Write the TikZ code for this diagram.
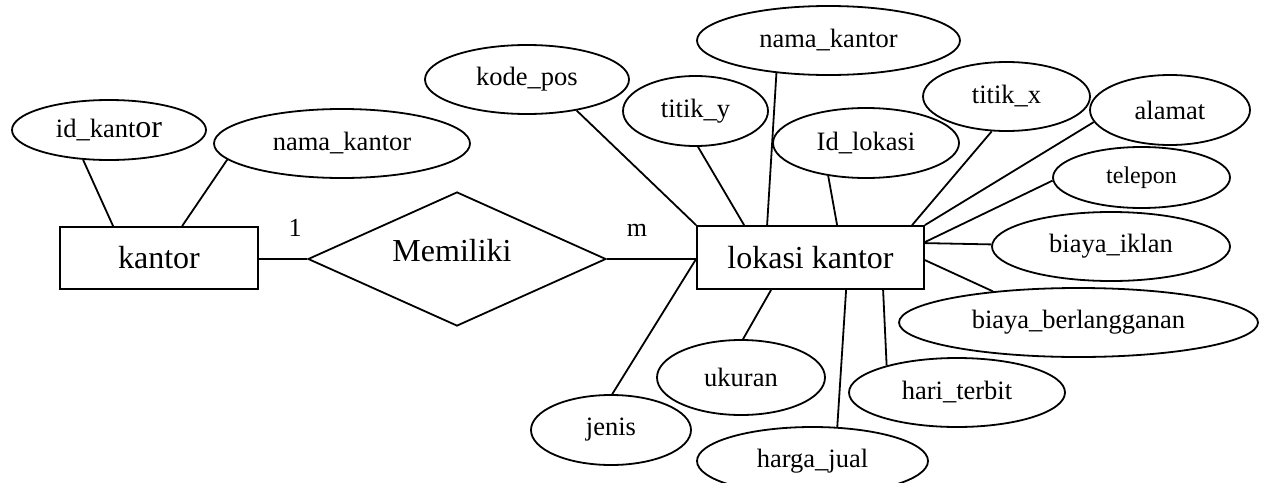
\documentclass[tikz,border=0pt]{standalone}
\usepackage{fontspec}
\setmainfont{Liberation Serif}
\usetikzlibrary{shapes.geometric}

\tikzset{
  er/.style={line width=1.8pt, draw=black},
  entity/.style={er, rectangle, inner sep=0pt, font=\fontsize{32}{36}\selectfont},
  relation/.style={er, diamond, inner sep=0pt, minimum width=298pt, minimum height=134pt},
  attr/.style={er, ellipse, inner sep=0pt, font=\fontsize{26.5}{30}\selectfont},
  link/.style={line width=1.8pt},
  card/.style={font=\fontsize{26}{30}\selectfont, inner sep=0pt}
}

\begin{document}
\begin{tikzpicture}[x=1pt, y=-1pt]
\useasboundingbox (0,0) rectangle (1269,482);
\clip (0,0) rectangle (1269,482);

% entities
\node[entity, minimum width=198pt, minimum height=62pt] (kantor) at (159,258) {kantor};
\node[entity, minimum width=227pt, minimum height=63pt] (lokasi) at (810.5,257.5) {lokasi kantor};

% relationship
\node[relation] (memiliki) at (457,259) {};
\node[inner sep=0pt, font=\fontsize{32}{36}\selectfont] (memlabel) at (452,251) {Memiliki};

% attributes of kantor
\node[attr, minimum width=194pt, minimum height=60pt] (idk) at (109,130)
  {id\_kant{\fontsize{32}{36}\selectfont or}};
\node[attr, minimum width=256pt, minimum height=69pt] (namak1) at (342,143.5) {nama\_kantor};

% attributes of lokasi kantor
\node[attr, minimum width=204pt, minimum height=69pt] (kodepos) at (527,79.5) {kode\_pos};
\node[attr, minimum width=263pt, minimum height=69pt] (namak2) at (828.5,40.5) {nama\_kantor};
\node[attr, minimum width=145pt, minimum height=70pt] (titiky) at (695.5,111) {titik\_y};
\node[attr, minimum width=186pt, minimum height=70pt] (idlok) at (866,143) {Id\_lokasi};
\node[attr, minimum width=167pt, minimum height=69pt] (titikx) at (1006.5,96.5) {titik\_x};
\node[attr, minimum width=160pt, minimum height=70pt] (alamat) at (1170,110) {alamat};
\node[attr, minimum width=177pt, minimum height=61pt, font=\fontsize{24}{28}\selectfont] (telepon) at (1141.5,177.5) {telepon};
\node[attr, minimum width=238pt, minimum height=69pt] (biklan) at (1111,246.5) {biaya\_iklan};
\node[attr, minimum width=359pt, minimum height=69pt] (bberl) at (1078.5,322.5) {biaya\_berlangganan};
\node[attr, minimum width=216pt, minimum height=69pt] (hari) at (957,392.5) {hari\_terbit};
\node[attr, minimum width=231pt, minimum height=68pt] (harga) at (812.5,461) {harga\_jual};
\node[attr, minimum width=168pt, minimum height=75pt] (ukuran) at (741,377.5) {ukuran};
\node[attr, minimum width=160pt, minimum height=70pt] (jenis) at (611,430) {jenis};

% cardinalities
\node[card] (c1) at (295,228) {1};
\node[card] (cm) at (637,230) {m};

% connectors: relationship
\draw[link] (memiliki.west) -- (memiliki.west -| kantor.east);
\draw[link] (memiliki.east) -- (memiliki.east -| lokasi.west);

% connectors: kantor attributes
\draw[link] (idk.-131) -- ([xshift=54pt]kantor.north west);
\draw[link] (namak1.-172) -- ([xshift=123pt]kantor.north west);

% connectors: lokasi kantor attributes
\draw[link] (kodepos.-32) -- (lokasi.north west);
\draw[link] (titiky.-86) -- ([xshift=48pt]lokasi.north west);
\draw[link] (namak2.-148) -- ([xshift=71pt]lokasi.north west);
\draw[link] (idlok.-139) -- ([xshift=141pt]lokasi.north west);
\draw[link] (titikx.-113) -- ([xshift=216pt]lokasi.north west);
\draw[link] (alamat.-171) -- (lokasi.north east);
\draw[link] (telepon.-178) -- ([yshift=-17pt]lokasi.north east);
\draw[link] (biklan.179) -- ([yshift=-18pt]lokasi.north east);
\draw[link] (bberl.160) -- ([yshift=-35pt]lokasi.north east);
\draw[link] (hari.159) -- ([xshift=187pt]lokasi.south west);
\draw[link] (harga.54) -- ([xshift=150pt]lokasi.south west);
\draw[link] (ukuran.87) -- ([xshift=75pt]lokasi.south west);
\draw[link] (jenis.88) -- ([yshift=-1.5pt]lokasi.west);
\end{tikzpicture}
\end{document}
